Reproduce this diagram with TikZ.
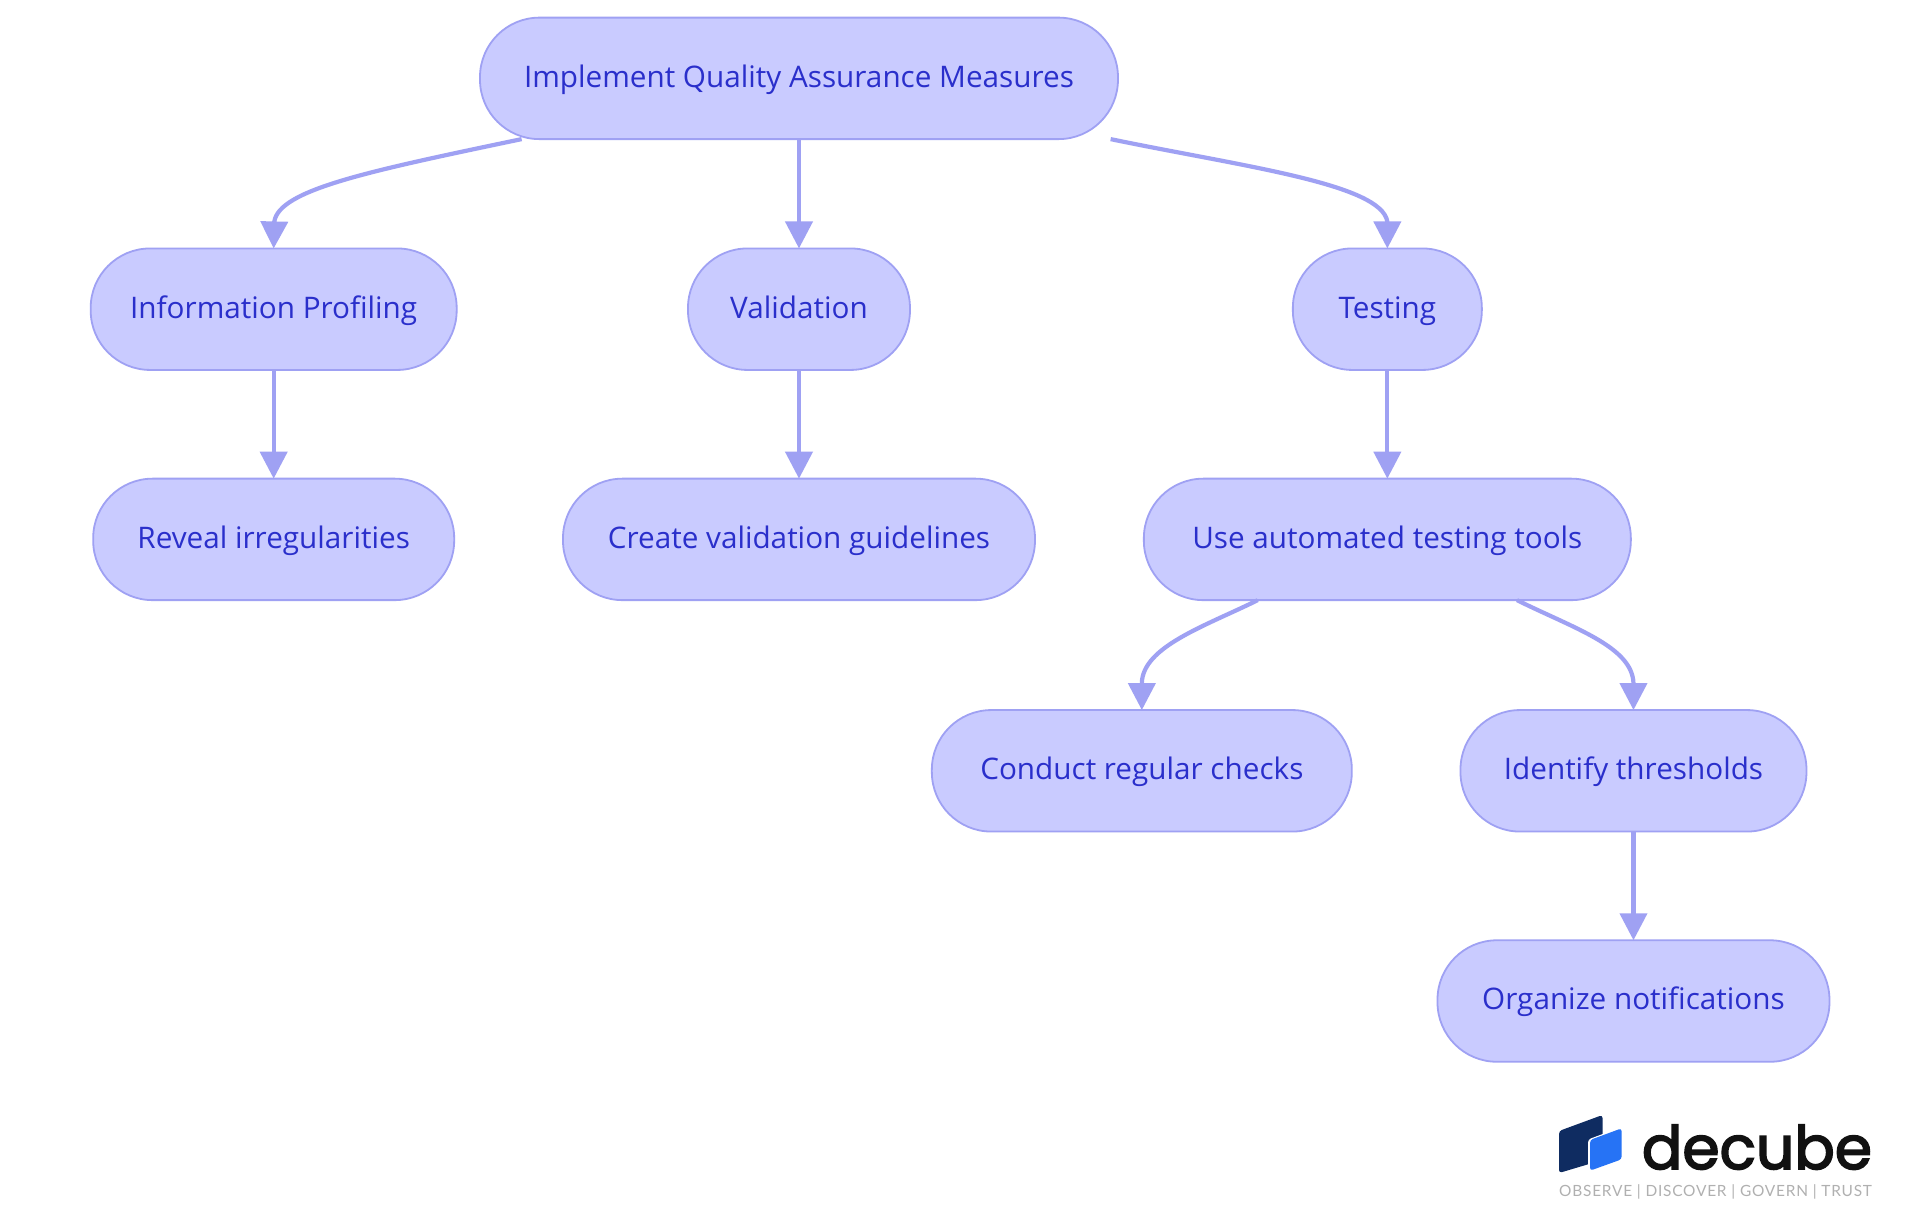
\documentclass[tikz,border=0pt]{standalone}
\usepackage{fontspec}
\setmainfont{Open Sans}
\newfontfamily\logofont[FakeBold=2.8]{Poppins}
\newfontfamily\tagfont[LetterSpace=5]{Lato}
\usetikzlibrary{arrows.meta,calc}
\definecolor{nodefill}{HTML}{C9CBFF}
\definecolor{edgecol}{HTML}{9FA1F3}
\definecolor{textcol}{HTML}{2A2FCB}
\tikzset{
  pill/.style={draw=edgecol,fill=nodefill,line width=1.8pt,rounded corners=59.5pt,outer sep=0pt,
    minimum height=121.5pt,inner sep=0pt,text height=24pt,text depth=6.2pt,text=textcol,
    font=\fontsize{29.7}{34}\selectfont,anchor=center},
  link/.style={draw=edgecol,line width=4.2pt,-{Triangle[length=27pt,width=27pt]}}
}
\begin{document}
\begin{tikzpicture}[x=1.2245pt,y=-1.2245pt]
\useasboundingbox[fill=white] (0,0) rectangle (1568,992.2);
\node[pill,minimum width=638pt] (top) at (652.5,64) {Implement Quality Assurance Measures};
\node[pill,minimum width=366pt] (info) at (223.5,252.5) {Information Profiling};
\node[pill,minimum width=222pt] (valid) at (652.5,252.5) {Validation};
\node[pill,minimum width=189pt] (test) at (1133,252.5) {Testing};
\node[pill,minimum width=361pt] (reveal) at (223.5,440.5) {Reveal irregularities};
\node[pill,minimum width=472pt] (create) at (652.5,440.5) {Create validation guidelines};
\node[pill,minimum width=487pt] (auto) at (1133,440.5) {Use automated testing tools};
\node[pill,minimum width=420pt] (conduct) at (932.5,629.5) {Conduct regular checks};
\node[pill,minimum width=346pt] (thresh) at (1334,629.5) {Identify thresholds};
\node[pill,minimum width=392pt] (notify) at (1334,817.5) {Organize notifications};

\draw[link] ($(top.south west)+(34,0)$) .. controls (300,140) and (228,155) .. (224,181) -- (info.north);
\draw[link] (top.south) -- (valid.north);
\draw[link] ($(top.south east)+(-6,0)$) .. controls (1015,136) and (1128,150) .. (1133,181) -- (test.north);
\draw[link] (info.south) -- (reveal.north);
\draw[link] (valid.south) -- (create.north);
\draw[link] (test.south) -- (auto.north);
\draw[link] ($(auto.south west)+(93,0)$) .. controls (985,511) and (933,528) .. (932.5,558) -- (conduct.north);
\draw[link] ($(auto.south east)+(-93,0)$) .. controls (1285,513) and (1333,528) .. (1334,558) -- (thresh.north);
\draw[link] (thresh.south) -- (notify.north);

\begin{scope}[x=1pt,y=-1pt]
\fill[rounded corners=3pt,fill={rgb,255:red,15;green,44;blue,97}] (1559,1131) -- (1602.5,1115) -- (1602.5,1160) -- (1559,1173) -- cycle;
\fill[rounded corners=3pt,fill=white] (1588,1139.5) -- (1623,1126.5) -- (1623,1161) -- (1588,1173) -- cycle;
\fill[rounded corners=3pt,fill={rgb,255:red,38;green,115;blue,245}] (1590,1140) -- (1621.7,1128.3) -- (1621.7,1159.3) -- (1590,1170.7) -- cycle;
\node[anchor=base west,inner sep=0pt,text={rgb,255:red,17;green,17;blue,17}] (logoword) at (1641.7,1169) {\resizebox{230pt}{!}{\logofont decube}};
\node[anchor=base west,inner sep=0pt,text={rgb,255:red,176;green,176;blue,176}] (logotag) at (1559,1197) {\resizebox{312.7pt}{!}{\tagfont OBSERVE | DISCOVER | GOVERN | TRUST}};
\end{scope}
\end{tikzpicture}
\end{document}
